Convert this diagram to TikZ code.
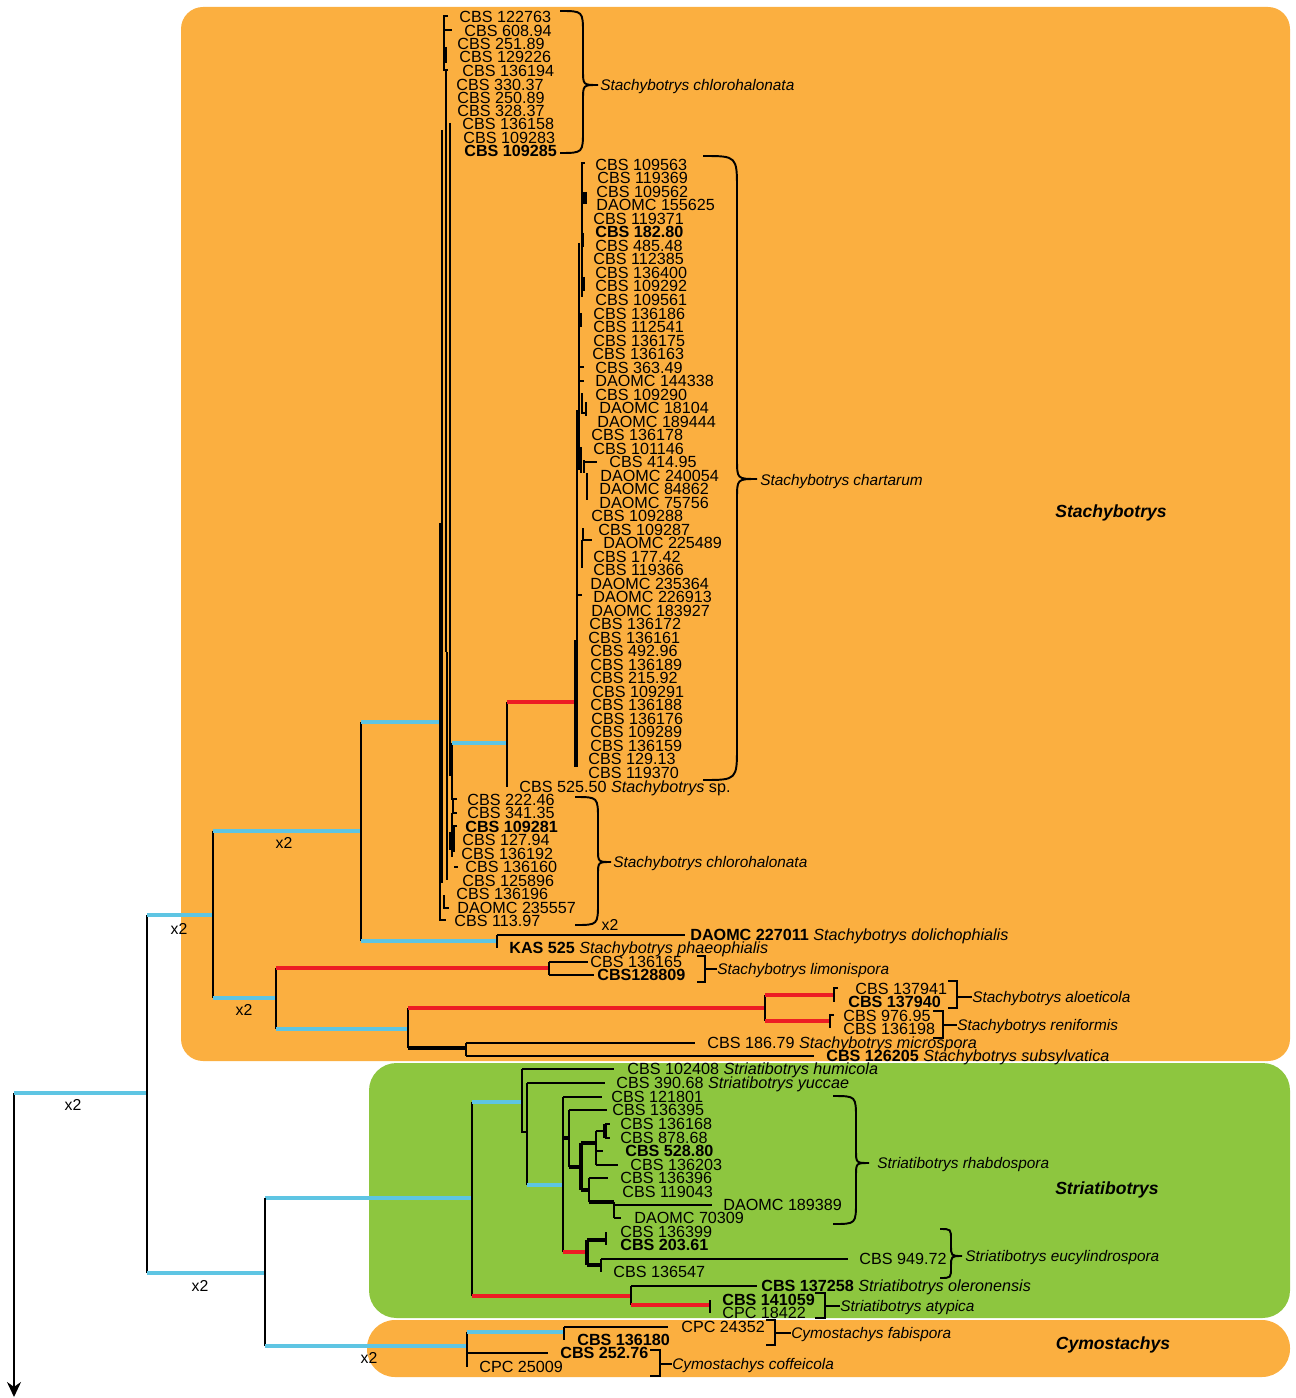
\documentclass[tikz,border=0pt]{standalone}
\usepackage{fontspec}
\setmainfont{Liberation Sans}
\usetikzlibrary{arrows.meta}
\definecolor{stachyorange}{RGB}{251,175,64}
\definecolor{striagreen}{RGB}{141,198,63}
\definecolor{supblue}{RGB}{94,197,227}
\definecolor{supred}{RGB}{237,28,36}
\tikzset{
    leaf/.style = {
        anchor=west, inner sep=0pt,
        text height=6.5pt, text depth=0pt,
        font=\fontsize{9.2}{10}\selectfont
    },
    bleaf/.style = {
        leaf, font=\fontsize{9.2}{10}\selectfont\bfseries
    },
    species/.style = {
        leaf, font=\fontsize{8.75}{10}\selectfont\itshape
    },
    genus/.style = {
        inner sep=0pt, font=\fontsize{10}{12}\selectfont\bfseries\itshape
    },
    mult/.style = {
        inner sep=0pt, font=\fontsize{9}{10}\selectfont
    },
    branch/.style = {line width=1.1pt},
    thickbranch/.style = {line width=2.4pt},
    bluebranch/.style = {supblue, line width=2.6pt},
    redbranch/.style = {supred, line width=2.6pt},
    tolabel/.style = {branch, shorten >=#1},
    tolabel/.default = 0.22cm,
    bracel/.style = {line width=1.1pt},
    rootarrow/.style = {
        line width=1.1pt, -{Stealth[length=0.3cm, width=0.28cm]}
    }
}
% curly brace: x start, y top, y bottom, x straight, x tip, y tip
\newcommand{\spbrace}[6]{%
  \draw[bracel] (#1,#2) .. controls (#4,#2) .. (#4,{#2+#4-#1})
    -- (#4,{#6-(#5-#4)}) .. controls (#4,#6) .. (#5,#6)
    .. controls (#4,#6) .. (#4,{#6+(#5-#4)})
    -- (#4,{#3-(#4-#1)}) .. controls (#4,#3) .. (#1,#3);}
\begin{document}
\begin{tikzpicture}[x=0.02cm, y=-0.02cm]
\useasboundingbox (0,0) rectangle (1295,1398);

% clade boxes
\fill[stachyorange, rounded corners=0.44cm] (181,7) rectangle (1290,1061);
\fill[striagreen, rounded corners=0.55cm] (369,1063) rectangle (1290,1318);
\fill[stachyorange, rounded corners=0.56cm] (367,1320) rectangle (1290,1377);

\node (gstachy) [genus] at (1111,513) {Stachybotrys};
\node (gstria) [genus] at (1107,1190) {Striatibotrys};
\node (gcymo) [genus] at (1113,1345) {Cymostachys};

% Stachybotrys chlorohalonata (upper)
\node (a122763) [leaf] at (459,17) {CBS 122763};
\node (a60894) [leaf] at (464,31) {CBS 608.94};
\node (a25189) [leaf] at (457,44) {CBS 251.89};
\node (a129226) [leaf] at (459,57) {CBS 129226};
\node (a136194) [leaf] at (462,71) {CBS 136194};
\node (a33037) [leaf] at (456,85) {CBS 330.37};
\node (a25089) [leaf] at (457,98) {CBS 250.89};
\node (a32837) [leaf] at (457,111) {CBS 328.37};
\node (a136158) [leaf] at (462,124) {CBS 136158};
\node (a109283) [leaf] at (463,138) {CBS 109283};
\node (a109285) [bleaf] at (464,151) {CBS 109285};
\node (chloroA) [species] at (600,85) {Stachybotrys chlorohalonata};

% Stachybotrys chartarum
\node (b109563) [leaf] at (595,165) {CBS 109563};
\node (b119369) [leaf] at (597,178) {CBS 119369};
\node (b109562) [leaf] at (596,192) {CBS 109562};
\node (b155625) [leaf] at (596,205) {DAOMC 155625};
\node (b119371) [leaf] at (593,219) {CBS 119371};
\node (b18280) [bleaf] at (595,232) {CBS 182.80};
\node (b48548) [leaf] at (595,246) {CBS 485.48};
\node (b112385) [leaf] at (593,259) {CBS 112385};
\node (b136400) [leaf] at (595,273) {CBS 136400};
\node (b109292) [leaf] at (595,286) {CBS 109292};
\node (b109561) [leaf] at (595,300) {CBS 109561};
\node (b136186) [leaf] at (593,314) {CBS 136186};
\node (b112541) [leaf] at (593,327) {CBS 112541};
\node (b136175) [leaf] at (593,341) {CBS 136175};
\node (b136163) [leaf] at (592,354) {CBS 136163};
\node (b36349) [leaf] at (595,368) {CBS 363.49};
\node (b144338) [leaf] at (595,381) {DAOMC 144338};
\node (b109290) [leaf] at (595,395) {CBS 109290};
\node (b18104) [leaf] at (599,408) {DAOMC 18104};
\node (b189444) [leaf] at (597,422) {DAOMC 189444};
\node (b136178) [leaf] at (591,435) {CBS 136178};
\node (b101146) [leaf] at (593,449) {CBS 101146};
\node (b41495) [leaf] at (609,462) {CBS 414.95};
\node (b240054) [leaf] at (600,476) {DAOMC 240054};
\node (b84862) [leaf] at (599,489) {DAOMC 84862};
\node (b75756) [leaf] at (599,503) {DAOMC 75756};
\node (b109288) [leaf] at (591,516) {CBS 109288};
\node (b109287) [leaf] at (598,530) {CBS 109287};
\node (b225489) [leaf] at (603,543) {DAOMC 225489};
\node (b17742) [leaf] at (593,557) {CBS 177.42};
\node (b119366) [leaf] at (593,570) {CBS 119366};
\node (b235364) [leaf] at (590,584) {DAOMC 235364};
\node (b226913) [leaf] at (593,597) {DAOMC 226913};
\node (b183927) [leaf] at (591,611) {DAOMC 183927};
\node (b136172) [leaf] at (589,624) {CBS 136172};
\node (b136161) [leaf] at (588,638) {CBS 136161};
\node (b49296) [leaf] at (590,651) {CBS 492.96};
\node (b136189) [leaf] at (590,665) {CBS 136189};
\node (b21592) [leaf] at (590,678) {CBS 215.92};
\node (b109291) [leaf] at (592,692) {CBS 109291};
\node (b136188) [leaf] at (590,705) {CBS 136188};
\node (b136176) [leaf] at (591,719) {CBS 136176};
\node (b109289) [leaf] at (590,732) {CBS 109289};
\node (b136159) [leaf] at (590,746) {CBS 136159};
\node (b12913) [leaf] at (588,759) {CBS 129.13};
\node (b119370) [leaf] at (588,773) {CBS 119370};
\node (chart) [species] at (760,480) {Stachybotrys chartarum};
\node (sp52550) [leaf] at (519,787) {CBS 525.50 \textit{Stachybotrys} sp.};

% Stachybotrys chlorohalonata (lower)
\node (d22246) [leaf] at (467,800) {CBS 222.46};
\node (d34135) [leaf] at (467,813) {CBS 341.35};
\node (d109281) [bleaf] at (465,827) {CBS 109281};
\node (d12794) [leaf] at (462,840) {CBS 127.94};
\node (d136192) [leaf] at (461,854) {CBS 136192};
\node (d136160) [leaf] at (465,867) {CBS 136160};
\node (d125896) [leaf] at (462,881) {CBS 125896};
\node (d136196) [leaf] at (456,894) {CBS 136196};
\node (d235557) [leaf] at (457,908) {DAOMC 235557};
\node (d11397) [leaf] at (454,921) {CBS 113.97};
\node (chloroB) [species] at (613,862) {Stachybotrys chlorohalonata};

% remaining Stachybotrys
\node (dol) [leaf] at (690,935) {\textbf{DAOMC 227011} \textit{Stachybotrys dolichophialis}};
\node (kas) [leaf] at (509,948) {\textbf{KAS 525} \textit{Stachybotrys phaeophialis}};
\node (l136165) [leaf] at (590,962) {CBS 136165};
\node (l128809) [bleaf] at (597,975) {CBS128809};
\node (limo) [species] at (717,969) {Stachybotrys limonispora};
\node (al137941) [leaf] at (855,989) {CBS 137941};
\node (al137940) [bleaf] at (848,1002) {CBS 137940};
\node (aloe) [species] at (972,997) {Stachybotrys aloeticola};
\node (re97695) [leaf] at (843,1016) {CBS 976.95};
\node (re136198) [leaf] at (843,1029) {CBS 136198};
\node (reni) [species] at (957,1025) {Stachybotrys reniformis};
\node (mic) [leaf] at (707,1043) {CBS 186.79 \textit{Stachybotrys microspora}};
\node (sub) [leaf] at (826,1056) {\textbf{CBS 126205} \textit{Stachybotrys subsylvatica}};

% Striatibotrys
\node (hum) [leaf] at (627,1069) {CBS 102408 \textit{Striatibotrys humicola}};
\node (yuc) [leaf] at (616,1083) {CBS 390.68 \textit{Striatibotrys yuccae}};
\node (r121801) [leaf] at (611,1097) {CBS 121801};
\node (r136395) [leaf] at (612,1110) {CBS 136395};
\node (r136168) [leaf] at (620,1124) {CBS 136168};
\node (r87868) [leaf] at (620,1138) {CBS 878.68};
\node (r52880) [bleaf] at (625,1151) {CBS 528.80};
\node (r136203) [leaf] at (630,1165) {CBS 136203};
\node (r136396) [leaf] at (620,1178) {CBS 136396};
\node (r119043) [leaf] at (622,1192) {CBS 119043};
\node (r189389) [leaf] at (723,1205) {DAOMC 189389};
\node (r70309) [leaf] at (634,1218) {DAOMC 70309};
\node (rhab) [species] at (877,1163) {Striatibotrys rhabdospora};
\node (e136399) [leaf] at (620,1232) {CBS 136399};
\node (e20361) [bleaf] at (620,1245) {CBS 203.61};
\node (e94972) [leaf] at (859,1259) {CBS 949.72};
\node (e136547) [leaf] at (613,1272) {CBS 136547};
\node (eucy) [species] at (965,1256) {Striatibotrys eucylindrospora};
\node (ole) [leaf] at (761,1286) {\textbf{CBS 137258} \textit{Striatibotrys oleronensis}};
\node (t141059) [bleaf] at (722,1300) {CBS 141059};
\node (t18422) [leaf] at (722,1313) {CPC 18422};
\node (atyp) [species] at (840,1306) {Striatibotrys atypica};

% Cymostachys
\node (c24352) [leaf] at (681,1327) {CPC 24352};
\node (c136180) [bleaf] at (577,1340) {CBS 136180};
\node (c25276) [bleaf] at (560,1353) {CBS 252.76};
\node (c25009) [leaf] at (479,1367) {CPC 25009};
\node (fabi) [species] at (791,1333) {Cymostachys fabispora};
\node (coff) [species] at (672,1364) {Cymostachys coffeicola};

% multiplier labels
\node (m1) [mult] at (73,1105) {x2};
\node (m2) [mult] at (179,929) {x2};
\node (m3) [mult] at (200,1286) {x2};
\node (m4) [mult] at (284,843) {x2};
\node (m5) [mult] at (244,1010) {x2};
\node (m6) [mult] at (369,1358) {x2};
\node (m7) [mult] at (610,925) {x2};

% internal nodes
\coordinate (root) at (14,1093);
\coordinate (rootend) at (14,1397);
\coordinate (n1) at (147,1093);
\coordinate (n2) at (213,915);
\coordinate (n3) at (361,831);
\coordinate (n4) at (440,722);
\coordinate (n5) at (497,941);
\coordinate (n6) at (276,998);
\coordinate (n7) at (549,968);
\coordinate (n8) at (408,1029);
\coordinate (n9) at (765,1008);
\coordinate (n10) at (834,995);
\coordinate (n11) at (830,1021);
\coordinate (n12) at (466,1048);
\coordinate (n13) at (265,1273);
\coordinate (n14) at (472,1198);
\coordinate (n15) at (467,1346);
\coordinate (n16) at (522,1102);
\coordinate (n17) at (527,1132);
\coordinate (n18) at (563,1185);
\coordinate (n19) at (631,1296);
\coordinate (n20) at (710,1305);
\coordinate (n21) at (587,1252);
\coordinate (n22) at (564,1332);
\coordinate (nA) at (452,743);
\coordinate (nB) at (507,743);
\coordinate (nC) at (576,702);
\coordinate (rA) at (569,1138);
\coordinate (rB) at (581,1167);
\coordinate (rC) at (596,1143);
\coordinate (rD) at (605,1131);
\coordinate (rE) at (589,1190);
\coordinate (rF) at (614,1202);
\coordinate (eA) at (606,1240);
\coordinate (eB) at (601,1265);

% backbone
\draw[rootarrow] (root) -- (rootend);
\draw[bluebranch] (root) -- (n1);
\draw[branch] (n1 |- n2) -- (n1 |- n13);
\draw[bluebranch] (n1 |- n2) -- (n2);
\draw[bluebranch] (n1 |- n13) -- (n13);
\draw[branch] (n2 |- n3) -- (n2 |- n6);
\draw[bluebranch] (n2 |- n3) -- (n3);
\draw[bluebranch] (n2 |- n6) -- (n6);
\draw[branch] (n3 |- n4) -- (n3 |- n5);
\draw[bluebranch] (n3 |- n4) -- (n4);
\draw[bluebranch] (n3 |- n5) -- (n5);

% Stachybotrys core clade
\draw[branch] (448,16) -- (444,16) -- (444,70) -- (448,70);
\draw[branch] (444,30) -- (452,30);
\draw[thickbranch] (445,47) -- (445,63);
\draw[branch] (446,70) -- (446,652);
\draw[branch] (442,130) -- (442,883);
\draw[branch] (450,123) -- (450,775) -- (453,775);
\draw[branch] (447,652) -- (447,880);
\draw[branch] (440,523) -- (440,920) -- (446,920);
\draw[branch] (444,895) -- (444,908) -- (449,908);
\draw[branch] (457,799) -- (453,799) -- (453,813) -- (457,813);
\draw[branch] (452,813) -- (452,857);
\draw[branch] (457,826) -- (454,826) -- (454,852);
\draw[thickbranch] (451,832) -- (451,850);
\draw[branch] (454,867) -- (458,867);
\draw[branch] (nA) -- (nA |- d22246);
\draw[bluebranch] (nA) -- (nB);
\draw[branch] (nB |- nC) -- (nB |- sp52550);
\draw[redbranch] (nB |- nC) -- (nC);

% chartarum
\draw[branch] (585,163) -- (582,163) -- (582,297);
\draw[thickbranch] (585,192) -- (585,204);
\draw[branch] (583,233) -- (583,247);
\draw[branch] (579,243) -- (579,470);
\draw[branch] (584,277) -- (584,291);
\draw[branch] (581,313) -- (581,327);
\draw[branch] (579,367) -- (584,367);
\draw[branch] (579,381) -- (584,381);
\draw[branch] (582,393) -- (582,413) -- (586,413);
\draw[branch] (586,402) -- (586,416);
\draw[branch] (577,410) -- (577,767);
\draw[branch] (581,447) -- (581,473);
\draw[branch] (584,462) -- (597,462);
\draw[branch] (584,460) -- (584,473);
\draw[branch] (587,473) -- (587,500);
\draw[branch] (583,528) -- (583,540) -- (592,540);
\draw[branch] (582,540) -- (582,568);
\draw[branch] (577,595) -- (582,595);
\draw[thickbranch] (576,640) -- (576,767);

% other Stachybotrys
\draw[branch] (n5 |- dol) -- (n5 |- kas);
\draw[tolabel=0.1cm] (n5 |- dol) -- (dol.west);
\draw[branch] (n6 |- n7) -- (n6 |- n8);
\draw[redbranch] (n6 |- n7) -- (n7);
\draw[bluebranch] (n6 |- n8) -- (n8);
\draw[branch] (n7 |- l136165) -- (n7 |- l128809);
\draw[tolabel=0.04cm] (n7 |- l136165) -- (l136165.west);
\draw[tolabel=0.06cm] (n7 |- l128809) -- (l128809.west);
\draw[branch] (n8 |- n9) -- (n8 |- n12);
\draw[redbranch] (n8 |- n9) -- (n9);
\draw[thickbranch] (n8 |- n12) -- (n12);
\draw[branch] (n9 |- n10) -- (n9 |- n11);
\draw[redbranch] (n9 |- n10) -- (n10);
\draw[redbranch] (n9 |- n11) -- (n11);
\draw[branch] (838,988) -- (834,988) -- (834,1002);
\draw[branch] (834,1015) -- (830,1015) -- (830,1028);
\draw[branch] (n12 |- mic) -- (n12 |- sub);
\draw[tolabel=0.24cm] (n12 |- mic) -- (mic.west);
\draw[tolabel=0.24cm] (n12 |- sub) -- (sub.west);

% Striatibotrys
\draw[bluebranch] (n13 |- n14) -- (n14);
\draw[branch] (n13 |- n14) -- (n13 |- n15);
\draw[branch] (n14 |- n16) -- (n14 |- n19);
\draw[bluebranch] (n14 |- n16) -- (n16);
\draw[redbranch] (n14 |- n19) -- (n19);
\draw[branch] (n16 |- hum) -- (n16 |- n17) -- (n17);
\draw[tolabel=0.26cm] (n16 |- hum) -- (hum.west);
\draw[branch] (n17 |- yuc) -- (n17 |- n18);
\draw[tolabel] (n17 |- yuc) -- (yuc.west);
\draw[bluebranch] (n17 |- n18) -- (n18);
\draw[branch] (n18 |- r121801) -- (n18 |- n21);
\draw[tolabel=0.18cm] (n18 |- r121801) -- (r121801.west);
\draw[redbranch] (n18 |- n21) -- (n21);
\draw[thickbranch] (n18 |- rA) -- (rA);
\draw[branch] (rA |- r136395) -- (rA |- rB);
\draw[tolabel=0.1cm] (rA |- r136395) -- (r136395.west);
\draw[thickbranch] (rA |- rB) -- (rB);
\draw[thickbranch] (rB |- rC) -- (rB |- rE);
\draw[thickbranch] (rB |- rC) -- (rC);
\draw[thickbranch] (rB |- rE) -- (rE);
\draw[branch] (rC |- rD) -- (rC |- r136203);
\draw[branch] (rC |- rD) -- (rD);
\draw[tolabel=0.44cm] (rC |- r52880) -- (r52880.west);
\draw[tolabel=0.24cm] (rC |- r136203) -- (r136203.west);
\draw[thickbranch] (rD |- r136168) -- (rD |- r87868);
\draw[tolabel=0.2cm] (rD |- r136168) -- (r136168.west);
\draw[tolabel=0.2cm] (rD |- r87868) -- (r87868.west);
\draw[branch] (rE |- r136396) -- (rE |- rF);
\draw[tolabel=0.24cm] (rE |- r136396) -- (r136396.west);
\draw[thickbranch] (rE |- rF) -- (rF);
\draw[branch] (rF) -- (rF |- r70309);
\draw[tolabel] (rF |- r189389) -- (r189389.west);
\draw[tolabel=0.26cm] (rF |- r70309) -- (r70309.west);
\draw[thickbranch] (n21 |- eA) -- (n21 |- eB);
\draw[thickbranch] (n21 |- eA) -- (eA);
\draw[branch] (eA |- e136399) -- (eA |- e20361);
\draw[thickbranch] (n21 |- eB) -- (eB);
\draw[branch] (eB |- e94972) -- (eB |- e136547);
\draw[tolabel] (eB |- e94972) -- (e94972.west);
\draw[branch] (n19 |- ole) -- (n19 |- n20);
\draw[tolabel=0.08cm] (n19 |- ole) -- (ole.west);
\draw[redbranch] (n19 |- n20) -- (n20);
\draw[branch] (n20 |- t141059) -- (n20 |- t18422);

% Cymostachys
\draw[bluebranch] (n13 |- n15) -- (n15);
\draw[branch] (n15 |- n22) -- (n15 |- c25009);
\draw[bluebranch] (n15 |- n22) -- (n22);
\draw[tolabel=0.24cm] (n15 |- c25276) -- (c25276.west);
\draw[branch] (n22 |- c24352) -- (n22 |- c136180);
\draw[tolabel=0.26cm] (n22 |- c24352) -- (c24352.west);

% species braces
\spbrace{560}{11}{153}{583}{598}{85}
\spbrace{703}{156}{780}{737}{757}{479}
\spbrace{575}{797}{925}{598}{611}{862}
\spbrace{833}{1096}{1224}{856}{869}{1163}
\spbrace{940}{1229}{1278}{951}{962}{1256}
\draw[bracel] (697,956) -- (705,956) -- (705,982) -- (697,982);
\draw[bracel] (705,969) -- (limo.west);
\draw[bracel] (948,981) -- (957,981) -- (957,1008) -- (948,1008);
\draw[bracel] (957,997) -- (aloe.west);
\draw[bracel] (933,1011) -- (943,1011) -- (943,1038) -- (933,1038);
\draw[bracel] (943,1025) -- (reni.west);
\draw[bracel] (815,1293) -- (825,1293) -- (825,1318) -- (815,1318);
\draw[bracel] (825,1306) -- (atyp.west);
\draw[bracel] (766,1320) -- (775,1320) -- (775,1345) -- (766,1345);
\draw[bracel] (775,1333) -- (fabi.west);
\draw[bracel] (650,1350) -- (660,1350) -- (660,1376) -- (650,1376);
\draw[bracel] (660,1364) -- (coff.west);

\end{tikzpicture}
\end{document}
